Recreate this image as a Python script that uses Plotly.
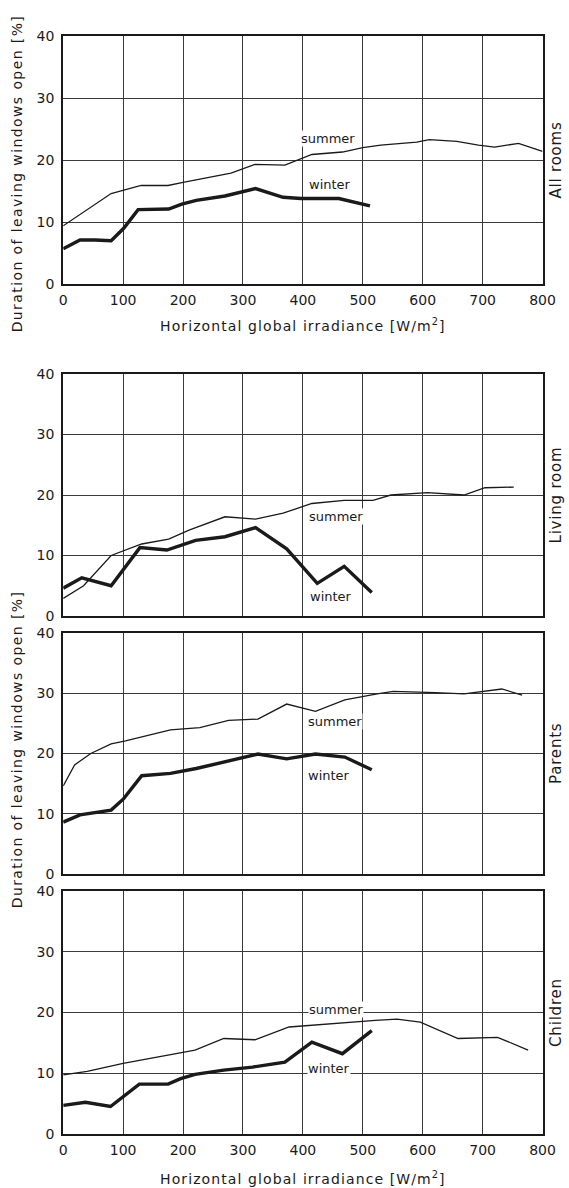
import plotly.graph_objects as go

# ---------------- data ----------------
panels = ["All rooms", "Living room", "Parents", "Children"]

all_summer_x = [0, 40, 80, 130, 175, 200, 280, 320, 370, 415, 466, 500, 530, 590, 611, 657, 693, 720, 760, 800]
all_summer_y = [9.4, 12.0, 14.6, 15.9, 15.9, 16.4, 17.9, 19.3, 19.2, 20.9, 21.3, 22.0, 22.4, 22.9, 23.3, 23.0, 22.4, 22.1, 22.7, 21.4]
all_winter_x = [0, 28, 53, 80, 101, 125, 176, 198, 222, 270, 321, 367, 397, 460, 512]
all_winter_y = [5.7, 7.1, 7.1, 7.0, 9.0, 12.0, 12.1, 12.9, 13.5, 14.2, 15.4, 14.0, 13.8, 13.8, 12.6]

liv_summer_x = [0, 34, 80, 131, 176, 210, 270, 321, 367, 415, 469, 517, 547, 608, 669, 704, 752]
liv_summer_y = [2.9, 5.0, 10.0, 11.9, 12.7, 14.2, 16.4, 16.0, 17.0, 18.6, 19.1, 19.1, 20.0, 20.4, 20.0, 21.2, 21.3]
liv_winter_x = [0, 31, 80, 128, 173, 221, 270, 321, 373, 424, 469, 515]
liv_winter_y = [4.6, 6.3, 5.0, 11.3, 10.9, 12.5, 13.1, 14.6, 11.1, 5.4, 8.2, 3.9]

par_summer_x = [0, 19, 46, 80, 104, 149, 179, 228, 276, 325, 373, 421, 470, 524, 551, 621, 669, 732, 766]
par_summer_y = [14.6, 18.1, 20.0, 21.6, 22.1, 23.2, 23.9, 24.3, 25.5, 25.7, 28.2, 27.0, 28.9, 29.9, 30.3, 30.1, 29.9, 30.7, 29.7]
par_winter_x = [0, 28, 80, 101, 131, 179, 222, 270, 325, 373, 421, 470, 515]
par_winter_y = [8.6, 9.8, 10.6, 12.5, 16.3, 16.7, 17.5, 18.6, 19.9, 19.1, 19.9, 19.4, 17.3]

chi_summer_x = [0, 40, 100, 196, 220, 268, 320, 377, 449, 521, 557, 596, 659, 701, 725, 776]
chi_summer_y = [9.7, 10.3, 11.6, 13.3, 13.8, 15.7, 15.5, 17.6, 18.2, 18.7, 18.9, 18.4, 15.7, 15.9, 15.9, 13.8]
chi_winter_x = [0, 37, 79, 100, 127, 175, 196, 220, 268, 316, 370, 415, 466, 515]
chi_winter_y = [4.7, 5.2, 4.5, 6.1, 8.2, 8.2, 9.1, 9.8, 10.5, 11.0, 11.8, 15.1, 13.2, 17.0]

summer_x = [all_summer_x, liv_summer_x, par_summer_x, chi_summer_x]
summer_y = [all_summer_y, liv_summer_y, par_summer_y, chi_summer_y]
winter_x = [all_winter_x, liv_winter_x, par_winter_x, chi_winter_x]
winter_y = [all_winter_y, liv_winter_y, par_winter_y, chi_winter_y]

# label positions (data units) for "summer" / "winter"
summer_lab = [(442, 23.4), (456, 16.4), (453, 25.3), (455, 20.5)]
winter_lab = [(445, 16.0), (447, 3.3), (444, 16.3), (444, 10.8)]

x_ticks = [0, 100, 200, 300, 400, 500, 600, 700, 800]
y_ticks = [0, 10, 20, 30, 40]

x_title = "Horizontal global irradiance [W/m<sup>2</sup>]"
y_title = "Duration of leaving windows open [%]"

# ---------------- layout geometry ----------------
W, H = 578, 1195


def fx(p):  # target picture x-pixel -> figure pixel
    return (p - 3.7) / 0.972


def fy(p):  # target picture y-pixel -> figure pixel
    return (p - 6.9) / 0.9868


left_px, right_px = fx(63), fx(543)
panel_ref = [(35, 283), (373, 615), (632, 873), (890, 1133)]
panel_px = [(fy(a), fy(b)) for a, b in panel_ref]

FONT = "DejaVu Sans"
INK = "#1a1a1a"
GRID = "#3a3a3a"


def spaced(t, ls=1.0):
    return f'<span style="letter-spacing:{ls}px">{t}</span>'


fig = go.Figure()

for i in range(4):
    xa = "x" if i == 0 else f"x{i+1}"
    ya = "y" if i == 0 else f"y{i+1}"
    fig.add_trace(go.Scatter(x=summer_x[i], y=summer_y[i], mode="lines",
                             line=dict(color=INK, width=1.3), xaxis=xa, yaxis=ya,
                             showlegend=False, hoverinfo="skip"))
    fig.add_trace(go.Scatter(x=winter_x[i], y=winter_y[i], mode="lines",
                             line=dict(color=INK, width=3.4), xaxis=xa, yaxis=ya,
                             showlegend=False, hoverinfo="skip"))

    top, bot = panel_px[i]
    show_x = i in (0, 3)
    xkey = "xaxis" if i == 0 else f"xaxis{i+1}"
    ykey = "yaxis" if i == 0 else f"yaxis{i+1}"
    fig.update_layout(**{
        xkey: dict(domain=[left_px / W, right_px / W], range=[0, 800], anchor=ya,
                   tickvals=x_ticks, showticklabels=show_x, ticks="outside", ticklen=2,
                   tickcolor="rgba(0,0,0,0)",
                   showgrid=True, gridcolor=GRID, gridwidth=1.4,
                   showline=True, linecolor=INK, linewidth=2.2, mirror=True,
                   zeroline=False, tickfont=dict(family=FONT, size=14, color=INK),
                   fixedrange=True),
        ykey: dict(domain=[1 - bot / H, 1 - top / H], range=[0, 40], anchor=xa,
                   tickvals=y_ticks, ticks="outside", ticklen=4, tickcolor="rgba(0,0,0,0)",
                   showgrid=True, gridcolor=GRID, gridwidth=1.4,
                   showline=True, linecolor=INK, linewidth=2.2, mirror=True,
                   zeroline=False, tickfont=dict(family=FONT, size=14, color=INK),
                   fixedrange=True),
    })

    fig.add_annotation(x=summer_lab[i][0], y=summer_lab[i][1], xref=xa, yref=ya,
                       text="summer", showarrow=False, bgcolor="white",
                       xanchor="center", yanchor="middle",
                       font=dict(family=FONT, size=13, color=INK), borderpad=0)
    fig.add_annotation(x=winter_lab[i][0], y=winter_lab[i][1], xref=xa, yref=ya,
                       text="winter", showarrow=False, bgcolor="white",
                       xanchor="center", yanchor="middle",
                       font=dict(family=FONT, size=13, color=INK), borderpad=0)

    # right-hand panel label
    fig.add_annotation(x=fx(557) / W, y=1 - ((top + bot) / 2) / H, xref="paper", yref="paper",
                       text=spaced(panels[i], 0.8), showarrow=False, textangle=-90,
                       xanchor="center", yanchor="middle",
                       font=dict(family=FONT, size=15, color=INK))

# x-axis titles
for ypix in (324, 1177):
    fig.add_annotation(x=(left_px + right_px) / 2 / W, y=1 - fy(ypix) / H, xref="paper", yref="paper",
                       text=spaced(x_title, 1.1), showarrow=False,
                       xanchor="center", yanchor="middle",
                       font=dict(family=FONT, size=14, color=INK))

# y-axis titles
for ypix in (172, 748):
    fig.add_annotation(x=fx(17) / W, y=1 - fy(ypix) / H, xref="paper", yref="paper",
                       text=spaced(y_title, 1.4), showarrow=False, textangle=-90,
                       xanchor="center", yanchor="middle",
                       font=dict(family=FONT, size=14, color=INK))

fig.update_layout(width=W, height=H, margin=dict(l=0, r=0, t=0, b=0),
                  paper_bgcolor="white", plot_bgcolor="white")

fig.write_html("out.html")
